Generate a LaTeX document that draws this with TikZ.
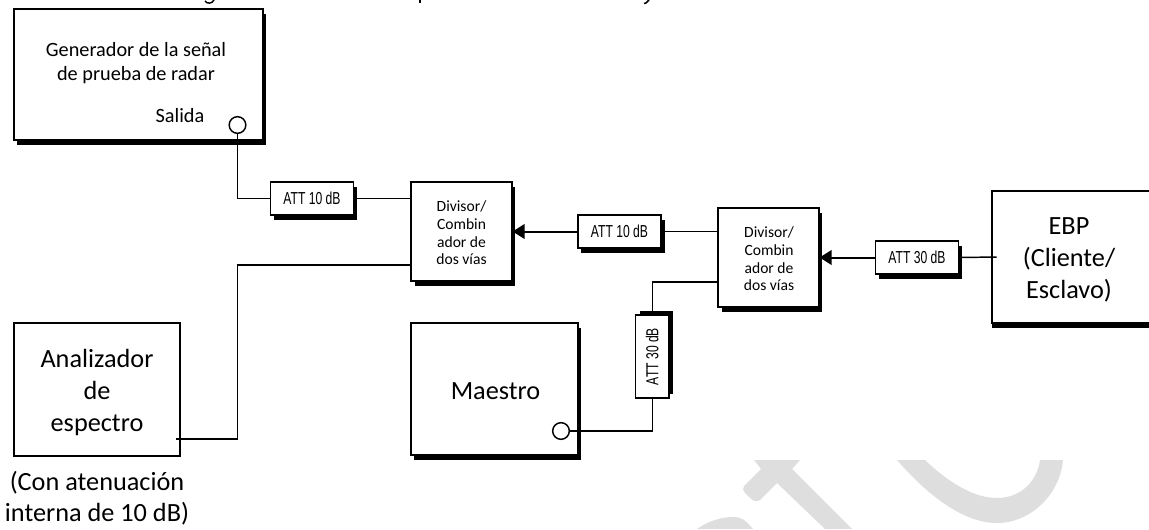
\documentclass[tikz,border=0pt]{standalone}
\usepackage{fontspec}
\usepackage{graphicx}
\setmainfont{Carlito}
\newfontfamily\attfont[FakeStretch=0.7]{Liberation Sans}
\usetikzlibrary{shadows,arrows.meta}
\tikzset{
  wire/.style={line width=1.1pt,draw=black},
  tipwire/.style={line width=1.5pt,draw=black,-{Triangle[length=9pt,width=11pt]}},
  plainbox/.style={draw=black,line width=1.2pt,fill=white,inner sep=0pt,align=center},
  shadowbox/.style={plainbox,drop shadow={shadow xshift=2.6pt,shadow yshift=-3.4pt,fill=black,opacity=1}},
  attbox/.style={shadowbox,font=\attfont\fontsize{13}{14}\selectfont,minimum width=62.5pt,minimum height=24.75pt},
  attvert/.style={plainbox,font=\attfont\fontsize{13}{14}\selectfont,drop shadow={shadow xshift=3pt,shadow yshift=3pt,fill=black,opacity=1},minimum width=25pt,minimum height=62.25pt},
  divbox/.style={shadowbox,minimum width=75.5pt,minimum height=74.25pt},
  divtext/.style={font=\fontsize{11.7}{13.3}\selectfont,align=center,inner sep=0pt},
  bigtext/.style={font=\fontsize{19.7}{24}\selectfont,align=center,inner sep=0pt},
  captiontext/.style={font=\fontsize{19.7}{23.4}\selectfont,align=center,inner sep=0pt},
  medtext/.style={font=\fontsize{15.2}{18.6}\selectfont,align=center,inner sep=0pt},
  port/.style={circle,draw=black,line width=1.1pt,fill=white,minimum size=12.5pt,inner sep=0pt},
  wm/.style={fill=black!13,draw=none}
}
\begin{document}
\begin{tikzpicture}[x=0.75pt,y=-0.75pt]
\useasboundingbox (0,0) rectangle (1149,529);
% watermark fragments
\fill[wm] (754,460) -- (800,460) -- (792,469) -- (852,529) -- (825,529) -- (777,483) -- (760,500)
  .. controls (757,502) and (754,501) .. (751,499) -- (746,494)
  .. controls (743,491) and (742,488) .. (744,486) -- (761,469) -- cycle;
\fill[wm] (697,529) .. controls (707,522) and (720,517) .. (733,517)
  .. controls (742,517) and (745,520) .. (753,529) -- cycle;
\fill[wm] (897,460) -- (925,460) .. controls (950,484) and (975,498) .. (997,498)
  .. controls (1020,498) and (1037,482) .. (1040,460) -- (1063,460)
  .. controls (1060,495) and (1030,523) .. (997,523)
  .. controls (965,523) and (930,498) .. cycle;
% clipped line of text above the figure
\draw[wire] (205,1) .. controls (207,4) and (212,4) .. (214,0);
\draw[wire] (420,0) -- (420,3);
\draw[wire] (649,0) -- (646,3) -- (644,3.5);
% boxes
\node[shadowbox,minimum width=186.75pt,minimum height=98.25pt] (gen) at (138.5,74.5) {};
\node[medtext] (gentext) at (136,63) {Generador de la señal\\de prueba de radar};
\node[medtext] (salida) at (180,116) {Salida};
\node[port] (port1) at (237.5,125) {};
\node[attbox] (att1) at (312,198.5) {ATT 10 dB};
\node[divbox] (div1) at (461.5,231.5) {};
\node[divtext] (div1text) at (461.5,233) {Divisor/\\Combin\\ador de\\dos vías};
\node[attbox] (att2) at (619.5,231.5) {ATT 10 dB};
\node[divbox] (div2) at (768.5,257.5) {};
\node[divtext] (div2text) at (769,259) {Divisor/\\Combin\\ador de\\dos vías};
\node[attbox] (att3) at (917,257.5) {ATT 30 dB};
\node[attvert] (att4) at (652.25,356.5) {\rotatebox{90}{ATT 30 dB}};
\node[shadowbox,minimum width=125.25pt,minimum height=99pt] (maestro) at (494.5,389) {};
\node[bigtext] (maestrotext) at (495.5,391) {Maestro};
\node[port] (port2) at (561,431) {};
\node[plainbox,minimum width=124.5pt,minimum height=99.75pt] (ana) at (97,389.5) {};
\node[bigtext] (anatext) at (97,392) {Analizador\\de\\espectro};
\node[captiontext] (caption) at (97,498.5) {(Con atenuación\\interna de 10 dB)};
% EBP box runs off the right edge of the picture
\node[minimum width=117.75pt,minimum height=99pt,inner sep=0pt] (ebp) at (1070.5,257) {};
\node[bigtext] (ebptext) at (1069,259.5) {EBP\\(Cliente/\\Esclavo)};
\fill[black] (ebp.south west) rectangle ([yshift=-3.4pt]ebp.south east);
\draw[line width=1.2pt] (ebp.north east) -| (ebp.south west) -- (ebp.south east);
% named free ends
\coordinate (anaout) at (176,439);
\coordinate (d1b) at (411,265);
\coordinate (d2b) at (719,282);
% connectors
\draw[wire] (port1.south) |- (att1.west);
\draw[wire] (att1.east) -- (att1.east -| div1.west);
\draw[wire] (anaout) -- (anaout -| port1.south) |- (d1b);
\draw[tipwire] (att2.west) -- (att2.west -| div1.east);
\draw[wire] (att2.east) -- (att2.east -| div2.west);
\draw[tipwire] (att3.west) -- (att3.west -| div2.east);
\draw[wire] ([xshift=3.75pt]ebp.west) -- (att3.east);
\draw[wire] (d2b) -| (att4.north);
\draw[wire] (port2.east) -| (att4.south);
\end{tikzpicture}
\end{document}
